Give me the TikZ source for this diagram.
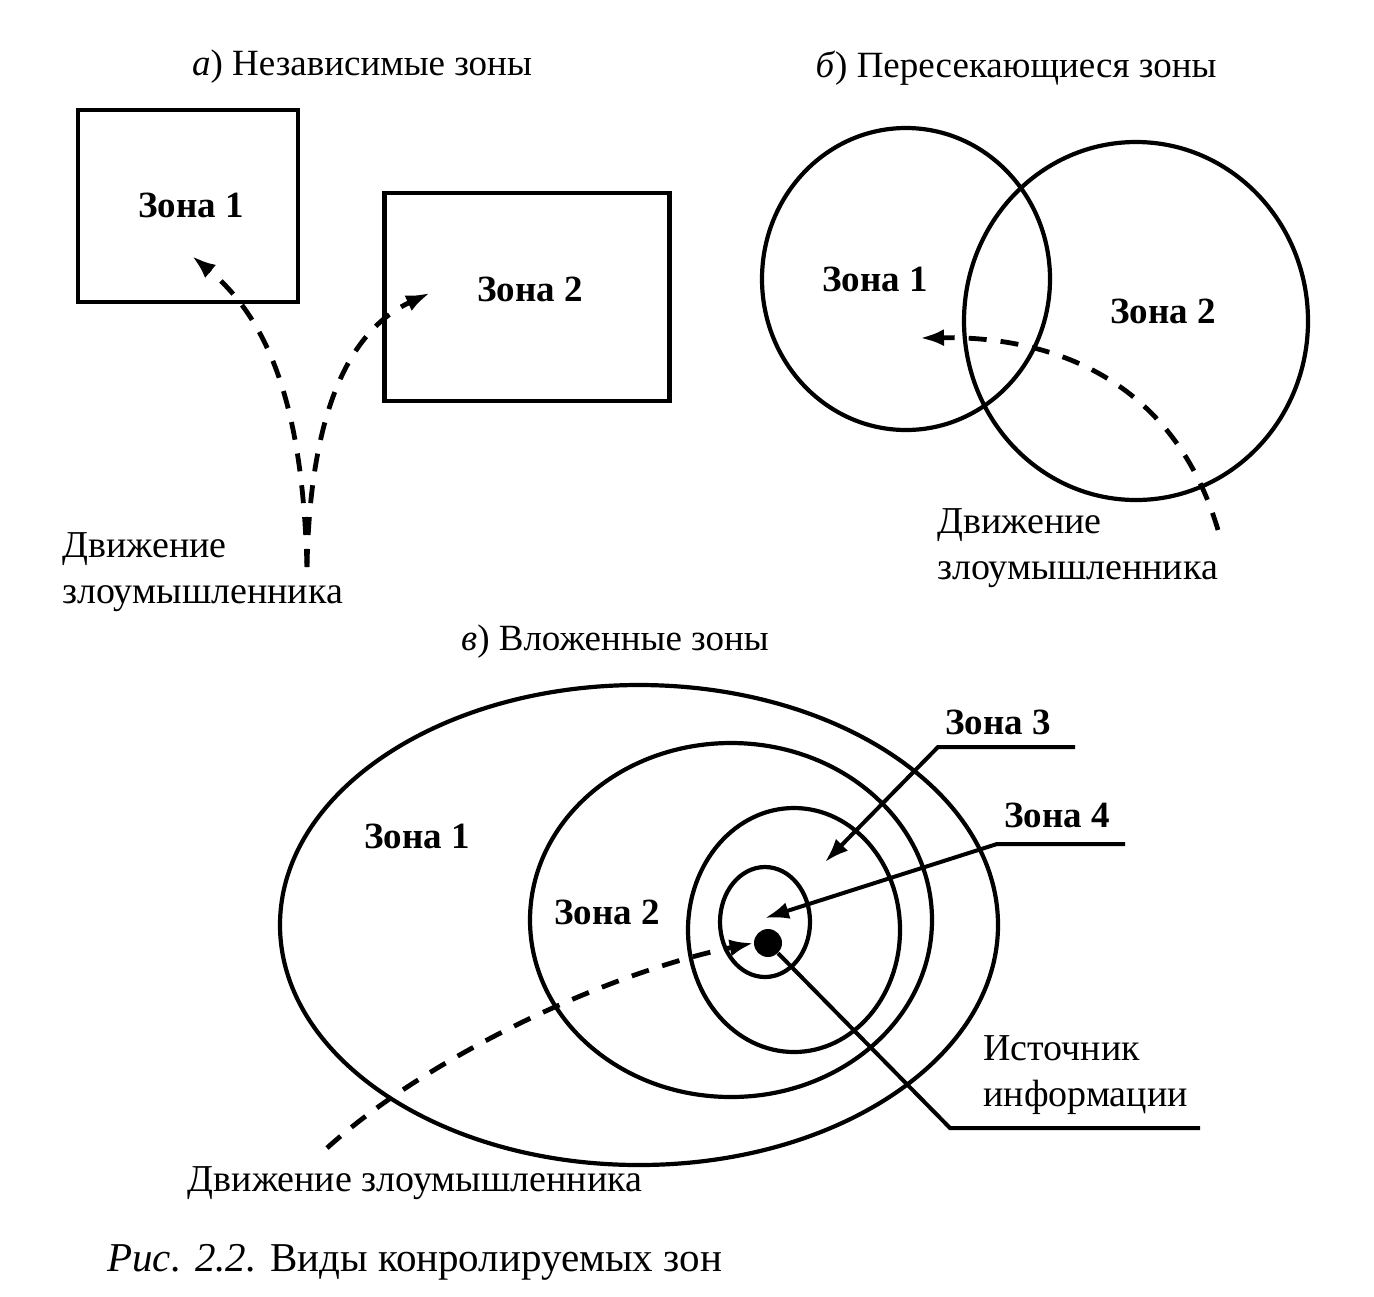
\documentclass[tikz,border=0pt]{standalone}
\usepackage{fontspec}
\setmainfont{Liberation Serif}
\usetikzlibrary{arrows.meta,shapes.geometric}

\begin{document}
\begin{tikzpicture}[x=0.5pt,y=-0.5pt,>={Latex[length=12pt,width=8.5pt]}]
\tikzset{
 zone/.style={draw,line width=2.1pt,inner sep=0pt},
 zonebox/.style={zone,rectangle},
 zoneoval/.style={zone,ellipse},
 zlabel/.style={font=\fontsize{18.5}{22}\selectfont\bfseries},
 txt/.style={font=\fontsize{19}{23}\selectfont,align=left,inner sep=0pt},
 title/.style={font=\fontsize{18.5}{22}\selectfont},
 move/.style={->,dash pattern=on 9pt off 7pt,line width=2.4pt},
 pointer/.style={->,line width=2pt}
}
\useasboundingbox (0,0) rectangle (1374,1296);

% a) independent zones
\node[title] (a-title) at (362,67) {\textit{а}) Независимые зоны};
\node[zonebox,minimum width=110pt,minimum height=96pt] (a-z1) at (188,206) {};
\node[zonebox,minimum width=142.5pt,minimum height=104pt] (a-z2) at (527,297) {};
\node[zlabel] (a-l1) at (191,205) {Зона 1};
\node[zlabel] (a-l2) at (530,289) {Зона 2};
\coordinate (a-src) at (307,567);
\coordinate (a-hit1) at (192,256);
\coordinate (a-hit2) at (430,293);
\draw[move] (a-src) .. controls (303,420) and (275,325) .. (a-hit1);
\draw[move] (a-src) .. controls (310,410) and (350,330) .. (a-hit2);
\node[txt,anchor=west] (a-move) at (62,572) {Движение\\злоумышленника};

% b) intersecting zones
\node[title] (b-title) at (1016,68) {\textit{б}) Пересекающиеся зоны};
\node[zoneoval,minimum width=144pt,minimum height=151pt] (b-z1) at (906,279) {};
\node[zoneoval,minimum width=172pt,minimum height=179pt] (b-z2) at (1136,321) {};
\node[zlabel] (b-l1) at (875,279) {Зона 1};
\node[zlabel] (b-l2) at (1163,311) {Зона 2};
\coordinate (b-src) at (1218,530);
\coordinate (b-hit) at (920,338);
\draw[move] (b-src) .. controls (1175,385) and (1060,336) .. (b-hit);
\node[txt,anchor=west] (b-move) at (937,548) {Движение\\злоумышленника};

% c) nested zones
\node[title] (c-title) at (615,642) {\textit{в}) Вложенные зоны};
\node[zoneoval,minimum width=359pt,minimum height=240pt] (c-z1) at (639,925) {};
\node[zoneoval,minimum width=201pt,minimum height=177pt] (c-z2) at (731,920) {};
\node[zoneoval,minimum width=106pt,minimum height=122pt] (c-z3) at (794,930) {};
\node[zoneoval,minimum width=45pt,minimum height=55pt] (c-z4) at (765,922) {};
\node[circle,fill,inner sep=0pt,minimum size=14pt] (c-info) at (768,943) {};
\node[zlabel] (c-l1) at (417,836) {Зона 1};
\node[zlabel] (c-l2) at (607,912) {Зона 2};
\node[zlabel] (c-l3) at (998,722) {Зона 3};
\node[zlabel] (c-l4) at (1057,815) {Зона 4};
\coordinate (c-p3a) at (1075,747);
\coordinate (c-p3b) at (938,747);
\coordinate (c-p3) at (825,862);
\coordinate (c-p4a) at (1125,844);
\coordinate (c-p4b) at (997,844);
\coordinate (c-p4) at (765,918);
\draw[pointer] (c-p3a) -- (c-p3b) -- (c-p3);
\draw[pointer] (c-p4a) -- (c-p4b) -- (c-p4);
\coordinate (c-srcb) at (950,1128);
\coordinate (c-srce) at (1200,1128);
\draw[line width=2pt] (c-info) -- (c-srcb) -- (c-srce);
\node[txt,anchor=west] (c-srctxt) at (983,1075) {Источник\\информации};
\coordinate (c-src) at (327,1148);
\draw[move] (c-src) .. controls (430,1055) and (610,972) .. (c-info.west);
\node[txt] (c-move) at (415,1183) {Движение злоумышленника};

% caption
\node[font=\fontsize{20.5}{24}\selectfont,anchor=west,inner sep=0pt] (fig) at (107,1262) {\textit{Рис. 2.2.} Виды конролируемых зон};
\end{tikzpicture}
\end{document}
